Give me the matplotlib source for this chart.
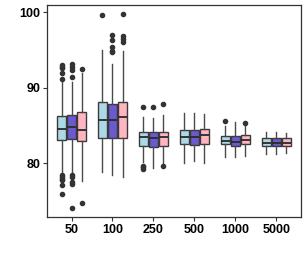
import numpy as np
import matplotlib
matplotlib.use('Agg')
import matplotlib.pyplot as plt

plt.rcParams['font.family'] = ['Liberation Sans', 'DejaVu Sans']

# sample sizes on the x axis
categories = ['50', '100', '250', '500', '1000', '5000']
colors = ['#ADD8E6', '#6A5ACD', '#FFB6C1']

# series 1 (light blue)
s1_lo = [78.7, 78.9, 80.2, 80.1, 80.8, 81.3]
s1_q1 = [83.1, 83.3, 82.3, 82.5, 82.5, 82.3]
s1_med = [84.5, 85.8, 83.5, 83.5, 83.0, 82.7]
s1_q3 = [86.3, 88.1, 84.1, 84.4, 83.6, 83.3]
s1_hi = [90.8, 95.0, 86.2, 86.6, 85.0, 84.2]
s1_out = [[93.0, 92.8, 92.6, 92.0, 91.1, 78.4, 78.2, 78.0, 77.8, 77.1, 75.9],
          [99.6], [87.5, 79.7, 79.5, 79.3], [], [85.6], []]

# series 2 (slate blue)
s2_lo = [78.9, 78.4, 79.4, 80.3, 80.8, 81.3]
s2_q1 = [83.2, 83.3, 82.2, 82.45, 82.3, 82.3]
s2_med = [84.75, 85.7, 83.3, 83.5, 82.85, 82.7]
s2_q3 = [86.4, 87.8, 84.1, 84.4, 83.6, 83.3]
s2_hi = [90.8, 93.1, 86.0, 86.6, 85.45, 84.1]
s2_out = [[93.1, 92.8, 92.4, 91.4, 78.4, 78.2, 77.6, 77.3, 74.15],
          [97.0, 96.3, 95.4, 94.9, 94.7], [87.5], [], [], []]

# series 3 (light pink)
s3_lo = [77.7, 78.2, 79.9, 80.1, 81.0, 81.4]
s3_q1 = [83.0, 83.3, 82.3, 82.6, 82.5, 82.3]
s3_med = [84.4, 86.1, 83.5, 83.7, 83.1, 82.75]
s3_q3 = [86.8, 88.06, 84.1, 84.6, 83.7, 83.3]
s3_hi = [91.9, 94.9, 86.4, 86.5, 84.9, 84.0]
s3_out = [[92.5, 74.7], [99.7, 96.8, 96.5, 96.0], [87.8, 79.6], [], [85.4], []]

series = [
    (s1_lo, s1_q1, s1_med, s1_q3, s1_hi, s1_out),
    (s2_lo, s2_q1, s2_med, s2_q3, s2_hi, s2_out),
    (s3_lo, s3_q1, s3_med, s3_q3, s3_hi, s3_out),
]
offsets = [-0.245, 0.0, 0.245]

fig = plt.figure(figsize=(3.07, 2.56), dpi=100)
ax = fig.add_axes([0.153, 0.152, 0.827, 0.830])

x = np.arange(len(categories))
for k, (lo, q1, med, q3, hi, out) in enumerate(series):
    stats = []
    for i in range(len(categories)):
        stats.append(dict(whislo=lo[i], q1=q1[i], med=med[i], q3=q3[i],
                          whishi=hi[i], fliers=out[i]))
    ax.bxp(stats, positions=x + offsets[k], widths=0.22, patch_artist=True,
           showcaps=False, manage_ticks=False,
           boxprops=dict(facecolor=colors[k], edgecolor='#3a3a3a', linewidth=1.0),
           whiskerprops=dict(color='#4a4a4a', linewidth=1.0),
           medianprops=dict(color='#2a2a2a', linewidth=1.3),
           flierprops=dict(marker='o', markerfacecolor='#333333',
                           markeredgecolor='#333333', markersize=3))

ax.set_xlim(-0.6, 5.6)
ax.set_ylim(72.9, 101.0)
ax.set_xticks(x)
ax.set_xticklabels(categories)
ax.set_yticks([80, 90, 100])
for lab in ax.get_xticklabels() + ax.get_yticklabels():
    lab.set_fontweight('bold')
    lab.set_fontsize(9)
    lab.set_color('black')
ax.tick_params(length=3, width=0.8, color='#333333', pad=2)
for sp in ax.spines.values():
    sp.set_color('#333333')
    sp.set_linewidth(0.9)

fig.savefig('out.png', dpi=100)
